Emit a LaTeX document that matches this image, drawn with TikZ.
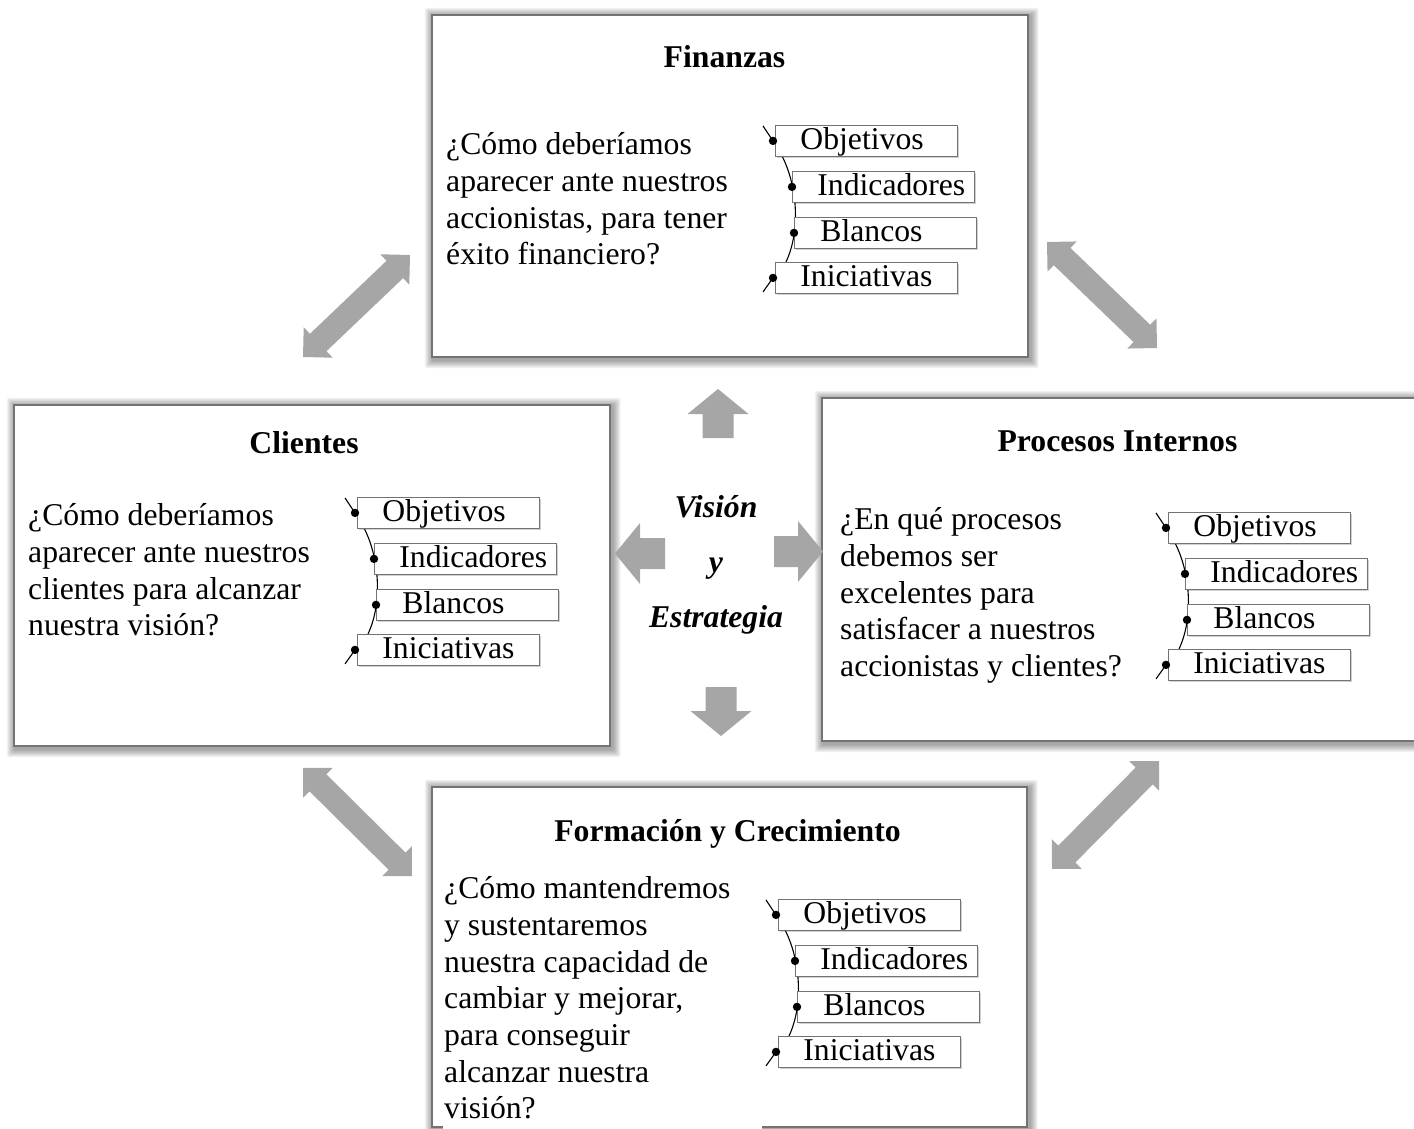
\documentclass[tikz,border=0pt]{standalone}
\usepackage{fontspec}
\setmainfont{Liberation Serif}
\usetikzlibrary{calc,shadows}
\pgfdeclarelayer{bg}
\pgfsetlayers{bg,main}
\definecolor{agray}{HTML}{A6A6A6}
\tikzset{
  bigbox/.style={draw=black!55, line width=1.2pt, fill=white, inner sep=0pt},
  lbox/.style={draw=black!55, line width=0.8pt, fill=white, inner sep=0pt,
    minimum width=182pt, minimum height=31pt, text height=24.5pt, text depth=6.5pt,
    anchor=north west, drop shadow={shadow xshift=1.5pt, shadow yshift=-2pt, fill=black, opacity=0.18}},
  ttl/.style={font=\bfseries, anchor=base, inner sep=0pt},
  body/.style={anchor=north west, align=left, inner sep=0pt},
  dotm/.style={fill=black},
  brk/.style={line width=1.1pt},
}
\newcommand\bshadow[1]{\foreach \k in {1,...,8}{\fill[black,opacity=0.05,rounded corners=2pt]
  ([xshift={(1.5-\k)*1pt},yshift={(\k-1.5)*1pt}]#1.north west) rectangle
  ([xshift={(2+\k)*1pt},yshift={(-2.5-\k)*1pt}]#1.south east);}}
\newcommand\dbl[2]{\fill[agray] (#1) -- ($(#1)!21pt!(#2)!21pt!90:(#2)$) -- ($(#1)!21pt!(#2)!12pt!90:(#2)$)
  -- ($(#2)!21pt!(#1)!12pt!-90:(#1)$) -- ($(#2)!21pt!(#1)!21pt!-90:(#1)$) -- (#2)
  -- ($(#2)!21pt!(#1)!21pt!90:(#1)$) -- ($(#2)!21pt!(#1)!12pt!90:(#1)$)
  -- ($(#1)!21pt!(#2)!12pt!-90:(#2)$) -- ($(#1)!21pt!(#2)!21pt!-90:(#2)$) -- cycle;}
\newcommand\sgl[2]{\fill[agray] ($(#1)!15.5pt!90:(#2)$) -- ($(#2)!25pt!(#1)!15.5pt!-90:(#1)$)
  -- ($(#2)!25pt!(#1)!30.5pt!-90:(#1)$) -- (#2) -- ($(#2)!25pt!(#1)!30.5pt!90:(#1)$)
  -- ($(#2)!25pt!(#1)!15.5pt!90:(#1)$) -- ($(#1)!15.5pt!-90:(#2)$) -- cycle;}
\newcommand\lbl[2]{\makebox[182pt][l]{\hspace{#1pt}#2}}
\newcommand\lst[3]{%
  \begin{scope}[shift={(#2,#3)}]
    \coordinate (#1c1) at (7,31);
    \coordinate (#1c2) at (11,137);
    \draw[brk] (#1c1) .. controls +(15,29) and +(15,-32) .. (#1c2);
    \node[lbox] (#1o) at (0,0) {\lbl{25}{Objetivos}};
    \node[lbox] (#1i) at (17,46) {\lbl{25}{Indicadores}};
    \node[lbox] (#1b) at (19,92) {\lbl{26}{Blancos}};
    \node[lbox] (#1n) at (0,137) {\lbl{25}{Iniciativas}};
    \draw[brk] ([xshift=-2pt]#1o.west) -- ++(-10,-15);
    \draw[brk] ([xshift=-2pt]#1n.west) -- ++(-10,14);
    \fill[dotm] ([xshift=-2pt]#1o.west) circle[radius=4.2pt];
    \fill[dotm] (#1i.west) circle[radius=4.2pt];
    \fill[dotm] (#1b.west) circle[radius=4.2pt];
    \fill[dotm] ([xshift=-2pt]#1n.west) circle[radius=4.2pt];
  \end{scope}}
\begin{document}
\begin{tikzpicture}[x=1pt,y=-1pt]
\fontsize{31.7pt}{36.7pt}\selectfont
\useasboundingbox (0,0) rectangle (1414,1129);
\clip (0,0) rectangle (1414,1129);
% big boxes
\node[bigbox, minimum width=596pt, minimum height=342pt] (fin) at (730,186) {};
\node[bigbox, minimum width=596pt, minimum height=341pt] (cli) at (312,575.5) {};
\node[bigbox, minimum width=600pt, minimum height=343pt] (pro) at (1122,569.5) {};
\node[bigbox, minimum width=595pt, minimum height=340pt] (for) at (729.5,957) {};
\begin{pgfonlayer}{bg}
  \bshadow{fin}\bshadow{cli}\bshadow{pro}\bshadow{for}
\end{pgfonlayer}
\fill[white] (443,1116) rectangle (762,1132);
% double arrows between perspectives
\coordinate (tl1) at (303,357); \coordinate (tl2) at (410,255);
\coordinate (tr1) at (1047,242); \coordinate (tr2) at (1157,348);
\coordinate (bl1) at (303,768); \coordinate (bl2) at (412,876);
\coordinate (br1) at (1052,869); \coordinate (br2) at (1159,761);
\dbl{tl1}{tl2}\dbl{tr1}{tr2}\dbl{bl1}{bl2}\dbl{br1}{br2}
% central arrows
\coordinate (ub) at (718,438); \coordinate (ut) at (718,389);
\coordinate (db) at (721,687); \coordinate (dt) at (721,736);
\coordinate (lb) at (665,553.5); \coordinate (lt) at (615,553.5);
\coordinate (rb) at (774,551.5); \coordinate (rt) at (823,551.5);
\sgl{ub}{ut}\sgl{db}{dt}\sgl{lb}{lt}\sgl{rb}{rt}
% centre text
\node[anchor=north, align=center, inner sep=0pt, font=\bfseries\itshape\fontsize{31.7pt}{55pt}\selectfont] (vis) at (716,492)
  {\rule{0pt}{25pt}Visión\\y\\Estrategia};
% titles
\node[ttl] (tfin) at (724.5,67.5) {Finanzas};
\node[ttl] (tcli) at (304,453) {Clientes};
\node[ttl] (tpro) at (1117.5,451.5) {Procesos Internos};
\node[ttl] (tfor) at (727.5,841.5) {Formación y Crecimiento};
% body texts
\node[body] (bfin) at (446,129.5) {\rule{0pt}{25pt}¿Cómo deberíamos\\aparecer ante nuestros\\accionistas, para tener\\éxito financiero?};
\node[body] (bcli) at (28,500.5) {\rule{0pt}{25pt}¿Cómo deberíamos\\aparecer ante nuestros\\clientes para alcanzar\\nuestra visión?};
\node[body] (bpro) at (840,504.5) {\rule{0pt}{25pt}¿En qué procesos\\debemos ser\\excelentes para\\satisfacer a nuestros\\accionistas y clientes?};
\node[body] (bfor) at (444,873.5) {\rule{0pt}{25pt}¿Cómo mantendremos\\y sustentaremos\\nuestra capacidad de\\cambiar y mejorar,\\para conseguir\\alcanzar nuestra\\visión?};
% lists
\lst{f}{775}{125}
\lst{c}{357}{497}
\lst{p}{1168}{512}
\lst{g}{778}{899}
\end{tikzpicture}
\end{document}
